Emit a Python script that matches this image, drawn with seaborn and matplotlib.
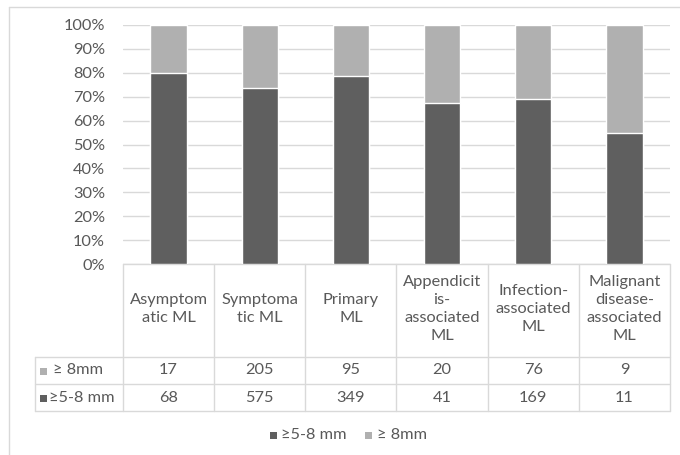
import numpy as np
import pandas as pd
import seaborn as sns
import matplotlib.pyplot as plt
from matplotlib.transforms import blended_transform_factory
from matplotlib.lines import Line2D
from matplotlib.patches import Rectangle

categories = ["Asymptomatic ML", "Symptomatic ML", "Primary ML",
              "Appendicitis-associated ML", "Infection-associated ML",
              "Malignant disease-associated ML"]
header_labels = ["Asymptom\natic ML", "Symptoma\ntic ML", "Primary\nML",
                 "Appendicit\nis-\nassociated\nML", "Infection-\nassociated\nML",
                 "Malignant\ndisease-\nassociated\nML"]
large = [17, 205, 95, 20, 76, 9]        # >= 8mm
small = [68, 575, 349, 41, 169, 11]     # >=5-8 mm
series_names = ["≥5-8 mm", "≥ 8mm"]

dark = "#5f5f5f"
light = "#b0b0b0"
txt = "#595959"
gridc = "#d9d9d9"
fs = 11.8

sns.set_style("white")
plt.rcParams["font.family"] = ["Lato", "DejaVu Sans"]

df = pd.DataFrame({"cat": categories, "small": small, "large": large})
df["total"] = df["small"] + df["large"]
df["p_small"] = df["small"] / df["total"]
df["p_all"] = df["total"] / df["total"]

W, H = 680, 455
fig = plt.figure(figsize=(6.8, 4.55), dpi=100)


def fy(py):
    return 1 - py / H


def key(px, py, color):
    # small square legend key, 7 px, centred on py
    fig.add_artist(Rectangle((px / W, fy(py + 3.5)), 7 / W, 7 / H,
                             color=color, transform=fig.transFigure, lw=0))


ax = fig.add_axes([123 / W, fy(264), (670 - 123) / W, (264 - 25) / H])

sns.barplot(data=df, x="cat", y="p_all", color=light, width=0.4, ax=ax,
            saturation=1, zorder=3)
sns.barplot(data=df, x="cat", y="p_small", color=dark, width=0.4, ax=ax,
            saturation=1, zorder=4)

ax.set_xlim(-0.5, 5.5)
ax.set_ylim(0, 1)
ax.set_yticks(np.arange(0, 1.01, 0.1))
ax.set_yticklabels([f"{int(round(v * 100))}%" for v in np.arange(0, 1.01, 0.1)])
ax.tick_params(axis="y", length=0, pad=13, labelsize=fs, colors=txt)
ax.set_xticks([])
ax.set_xlabel("")
ax.set_ylabel("")
ax.yaxis.grid(True, color=gridc, lw=1, zorder=0)
ax.set_axisbelow(True)
for s in ["left", "right", "top", "bottom"]:
    ax.spines[s].set_visible(False)

# data table below the chart
tr = blended_transform_factory(ax.transData, fig.transFigure)
x_left = -0.5 - (123 - 35) / ((670 - 123) / 6)
rows_y = [264, 357, 384, 411]
lk = dict(color=gridc, lw=1, transform=tr, clip_on=False)
ax.add_line(Line2D([-0.5, 5.5], [fy(264)] * 2, **lk))
for py in rows_y[1:]:
    ax.add_line(Line2D([x_left, 5.5], [fy(py)] * 2, **lk))
for i in range(7):
    ax.add_line(Line2D([i - 0.5] * 2, [fy(264), fy(411)], **lk))
ax.add_line(Line2D([x_left] * 2, [fy(357), fy(411)], **lk))

for i, lab in enumerate(header_labels):
    ax.text(i, fy(309), lab, transform=tr, ha="center", va="center",
            fontsize=fs, color=txt, linespacing=1.38)
for i in range(len(categories)):
    ax.text(i, fy(370.5), str(large[i]), transform=tr, ha="center",
            va="center", fontsize=fs, color=txt)
    ax.text(i, fy(397.5), str(small[i]), transform=tr, ha="center",
            va="center", fontsize=fs, color=txt)

# row labels with legend keys
key(40, 371, light)
fig.text(53 / W, fy(370.5), series_names[1], color=txt, fontsize=fs,
         va="center")
key(40, 398, dark)
fig.text(49 / W, fy(397.5), series_names[0], color=txt, fontsize=fs,
         va="center")

# bottom legend
key(270, 435.5, dark)
fig.text(281 / W, fy(435), series_names[0], color=txt, fontsize=fs,
         va="center")
key(365, 435.5, light)
fig.text(377 / W, fy(435), series_names[1], color=txt, fontsize=fs,
         va="center")

# chart frame (left and top edge visible)
fig.add_artist(Line2D([9 / W, 9 / W], [0, fy(7)], color=gridc, lw=1,
                      transform=fig.transFigure))
fig.add_artist(Line2D([9 / W, 1], [fy(7), fy(7)], color=gridc, lw=1,
                      transform=fig.transFigure))

fig.savefig("out.png", dpi=100, facecolor="white")
